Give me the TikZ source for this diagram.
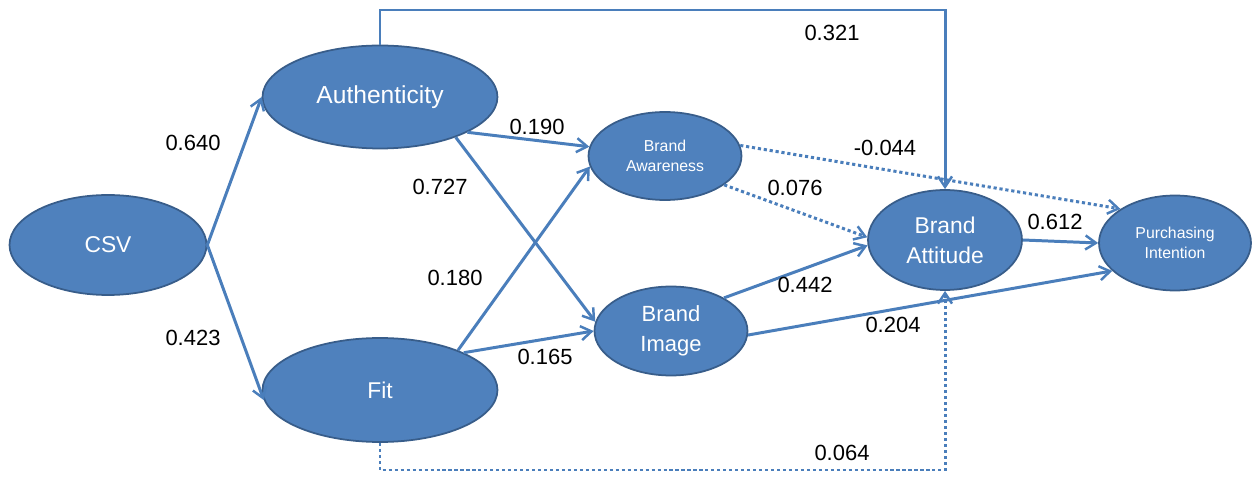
\documentclass[tikz,border=0pt]{standalone}
\usepackage{fontspec}
\setmainfont{Liberation Sans}
\usepackage{tikz}
\usetikzlibrary{shapes,arrows.meta}
\definecolor{ovalfill}{RGB}{79,129,189}
\definecolor{ovaldraw}{RGB}{56,93,138}
\definecolor{pathcol}{RGB}{74,126,187}
\newcommand{\lwidth}{1.7pt}
\newcommand{\tipl}{6pt}

\begin{document}
\begin{tikzpicture}[x=0.02cm, y=-0.02cm]
            \tikzset{oval/.style = {ellipse, fill=ovalfill, draw=ovaldraw, line width=1pt, inner sep=0pt, text=white, align=center, font=\fontsize{13}{15}\selectfont}}
            \tikzset{smalloval/.style = {oval, font=\fontsize{9}{11}\selectfont}}
            \tikzset{conn/.style = {draw=pathcol, line width=\lwidth, -{Straight Barb[length=\tipl, width=8pt, line width=1.4pt]}}}
            \tikzset{dotconn/.style = {conn, dash pattern=on 1.8pt off 1.6pt}}
            \tikzset{lbl/.style = {inner sep=0pt, font=\fontsize{12.5}{14}\selectfont}}
            \useasboundingbox (0,0) rectangle (1252,479);
            \node[oval, minimum width=3.94cm, minimum height=2cm] (csv) at (108,245) {CSV};
            \node[oval, minimum width=4.7cm, minimum height=2.06cm, font=\fontsize{14}{16}\selectfont] (auth) at (380,97) {Authenticity};
            \node[oval, minimum width=4.7cm, minimum height=2.08cm] (fit) at (380,390) {Fit};
            \node[smalloval, minimum width=3.06cm, minimum height=1.76cm] (aware) at (665,156) {Brand\\Awareness};
            \node[oval, minimum width=3.06cm, minimum height=1.78cm, font=\fontsize{12.5}{17}\selectfont] (image) at (671,331) {Brand\\Image};
            \node[oval, minimum width=3.08cm, minimum height=2cm, font=\fontsize{13}{17}\selectfont] (att) at (945,240) {Brand\\Attitude};
            \node[smalloval, minimum width=3.04cm, minimum height=1.9cm] (intent) at (1175,243) {Purchasing\\Intention};

            \coordinate (top) at (945,10);
            \coordinate (bot) at (945,470);

            \draw[conn] (csv.east) -- (auth.west);
            \draw[conn] (csv.east) -- (fit.185);
            \draw[conn] (auth.-22) -- (aware.173);
            \draw[conn] (auth.-28) -- (image.173);
            \draw[conn] (fit.27) -- (aware.188);
            \draw[conn] (fit.24) -- (image.180);
            \draw[conn] (auth.north) |- (top) -- (att.north);
            \draw[dotconn] (aware.8) -- (intent.148);
            \draw[dotconn] (aware.-26) -- (att.178);
            \draw[conn] (image.32) -- (att.184);
            \draw[conn] (image.-3) -- (intent.204);
            \draw[conn] (att.east) -- (intent.west);
            \draw[dotconn] (fit.south) |- (bot) -- (att.south);

            \node[lbl] (l640) at (193,143) {0.640};
            \node[lbl] (l423) at (193,338) {0.423};
            \node[lbl] (l190) at (537,127) {0.190};
            \node[lbl] (l727) at (440,187) {0.727};
            \node[lbl] (l180) at (455,278) {0.180};
            \node[lbl] (l165) at (545,357) {0.165};
            \node[lbl] (l321) at (832,33) {0.321};
            \node[lbl] (l044) at (885,148) {-0.044};
            \node[lbl] (l076) at (795,188) {0.076};
            \node[lbl] (l442) at (805,285) {0.442};
            \node[lbl] (l204) at (893,325) {0.204};
            \node[lbl] (l612) at (1055,222) {0.612};
            \node[lbl] (l064) at (842,453) {0.064};
        \end{tikzpicture}
\end{document}
